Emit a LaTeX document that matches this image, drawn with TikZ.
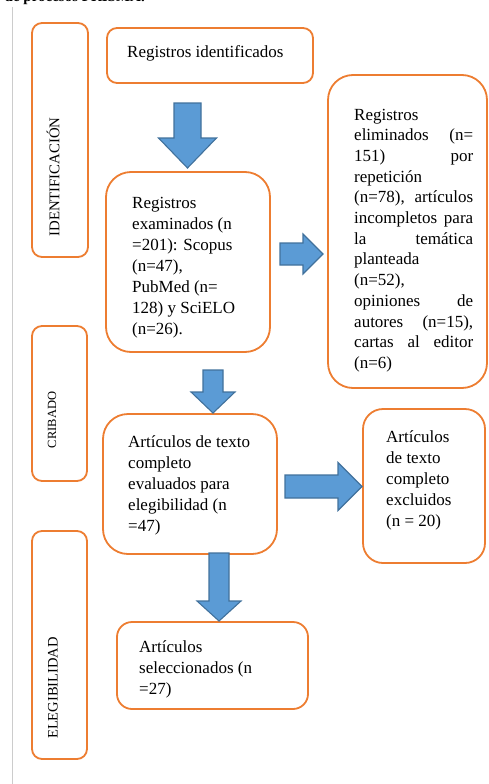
\documentclass[tikz,border=0pt]{standalone}
\usepackage{fontspec}
\setmainfont{Liberation Serif}
\definecolor{boxorange}{HTML}{ED7D31}
\definecolor{arrfill}{HTML}{5B9BD5}
\definecolor{arrline}{HTML}{41719C}
\definecolor{rulegray}{HTML}{CCCCCC}
\newcommand\blkdown[6]{% x, ytop, yhead, ytip, shafthalf, headhalf
  \draw[blk] (#1-#5,#2) -- (#1+#5,#2) -- (#1+#5,#3) -- (#1+#6,#3) -- (#1,#4) -- (#1-#6,#3) -- (#1-#5,#3) -- cycle;}
\newcommand\blkright[6]{% y, xleft, xhead, xtip, shafthalf, headhalf
  \draw[blk] (#2,#1-#5) -- (#3,#1-#5) -- (#3,#1-#6) -- (#4,#1) -- (#3,#1+#6) -- (#3,#1+#5) -- (#2,#1+#5) -- cycle;}
\newcommand\jline[1]{\makebox[119pt][s]{#1}}
\begin{document}
\begin{tikzpicture}[x=1pt,y=-1pt,
  obox/.style={draw=boxorange, line width=1.8pt, fill=white, inner sep=0pt},
  blk/.style={fill=arrfill, draw=arrline, line width=1.1pt, line join=miter},
  txt/.style={anchor=base west, inner sep=0pt, font=\fontsize{17}{21.1}\selectfont},
  vlab/.style={rotate=90, inner sep=0pt}]
\useasboundingbox (0,0) rectangle (488,784);
% top cut caption
\node[anchor=base east, inner sep=0pt, font=\bfseries\fontsize{15}{18}\selectfont] (cap) at (145,1.2) {de flujo de procesos PRISMA.};
% gray rule
\draw[rulegray, line width=1pt] (12,7) -- (12,784);
% stage boxes
\node[obox, rounded corners=10pt, minimum width=56pt, minimum height=234pt] (ident) at (60,140) {};
\node[vlab, font=\fontsize{14.8}{16}\selectfont] (identt) at (53,177) {IDENTIFICACIÓN};
\node[obox, rounded corners=10pt, minimum width=55pt, minimum height=155pt] (crib) at (59.5,403.5) {};
\node[vlab, font=\fontsize{12.5}{15}\selectfont] (cribt) at (52,420) {CRIBADO};
\node[obox, rounded corners=10pt, minimum width=55pt, minimum height=228pt] (eleg) at (59.5,645) {};
\node[vlab, font=\fontsize{14.5}{16}\selectfont] (elegt) at (53,688) {ELEGIBILIDAD};
% content boxes
\node[obox, rounded corners=10pt, minimum width=206pt, minimum height=55pt] (regid) at (210,55.5) {};
\node[txt] (regidt) at (127,58) {Registros identificados};
\node[obox, rounded corners=25pt, minimum width=164pt, minimum height=180pt] (exam) at (188,262) {};
\node[txt] (examt) at (132,208) {\begin{tabular}[t]{@{}l@{}}Registros\\examinados (n\\=201): Scopus\\(n=47),\\PubMed (n=\\128) y SciELO\\(n=26).\end{tabular}};
\node[obox, rounded corners=25pt, minimum width=159pt, minimum height=313pt] (elim) at (407.5,231.5) {};
\node[txt, font=\fontsize{17}{20.7}\selectfont] (elimt) at (354,120) {\begin{tabular}[t]{@{}l@{}}Registros\\\jline{eliminados (n=}\\\jline{151) por}\\repetición\\\jline{(n=78), artículos}\\\jline{incompletos para}\\\jline{la temática}\\planteada\\(n=52),\\\jline{opiniones de}\\\jline{autores (n=15),}\\\jline{cartas al editor}\\(n=6)\end{tabular}};
\node[obox, rounded corners=25pt, minimum width=174pt, minimum height=140pt] (eval) at (190,484) {};
\node[txt] (evalt) at (128,447) {\begin{tabular}[t]{@{}l@{}}Artículos de texto\\completo\\evaluados para\\elegibilidad (n\\=47)\end{tabular}};
\node[obox, rounded corners=20pt, minimum width=122pt, minimum height=154pt] (excl) at (424,486) {};
\node[txt] (exclt) at (386,442) {\begin{tabular}[t]{@{}l@{}}Artículos\\de texto\\completo\\excluidos\\(n = 20)\end{tabular}};
\node[obox, rounded corners=15pt, minimum width=191pt, minimum height=87pt] (sel) at (212.5,665.5) {};
\node[txt] (selt) at (139,652) {\begin{tabular}[t]{@{}l@{}}Artículos\\seleccionados (n\\=27)\end{tabular}};
% block arrows
\blkdown{187.5}{103}{138}{168}{13.5}{29}
\blkdown{213}{370}{392}{413}{10}{22}
\blkdown{219}{553}{601}{621}{10}{22}
\blkright{254}{280}{303}{323}{11}{20}
\blkright{486.5}{285}{338}{362}{11.5}{24}
\end{tikzpicture}
\end{document}
